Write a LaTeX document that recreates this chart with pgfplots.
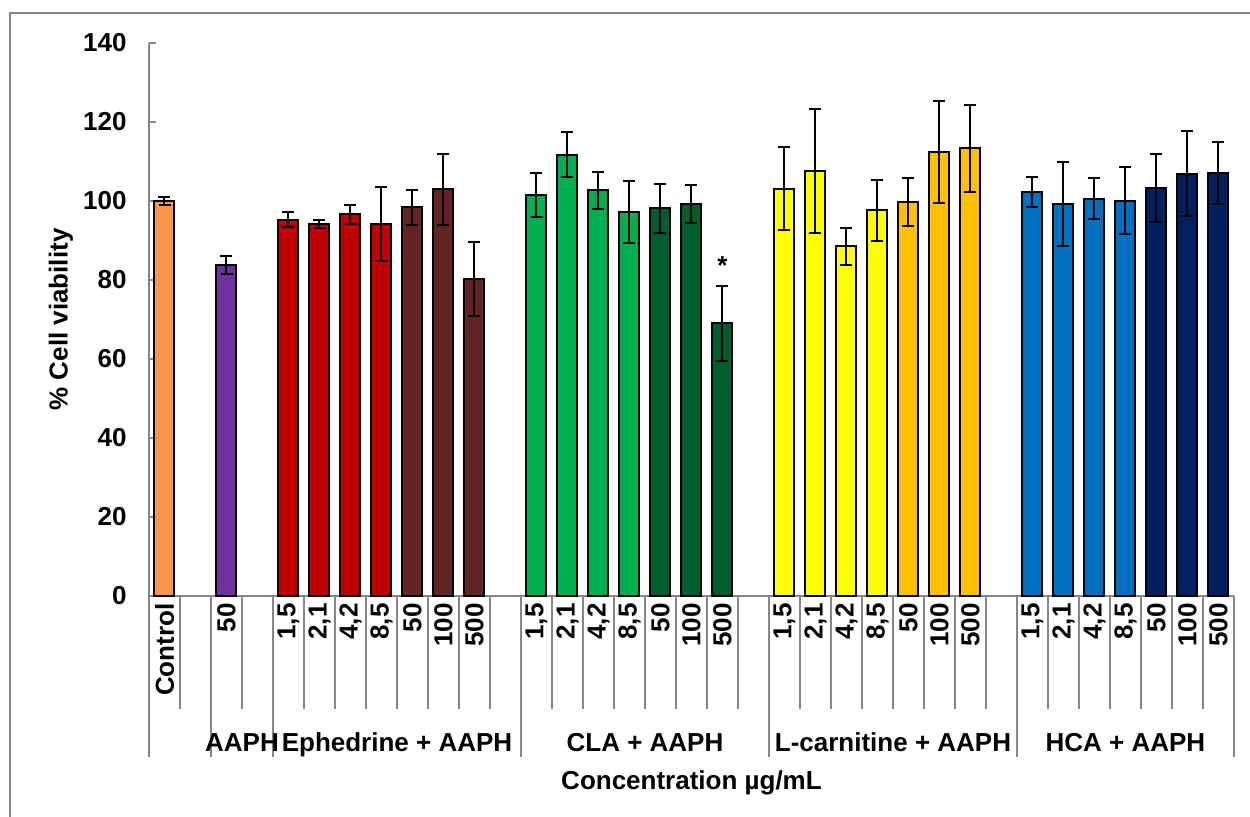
\documentclass[border=0pt]{standalone}
\usepackage{fontspec}
\setmainfont{Liberation Sans}
\usepackage{pgfplots}
\pgfplotsset{compat=1.18}
\definecolor{cCtrl}{HTML}{F79646}
\definecolor{cAAPH}{HTML}{7030A0}
\definecolor{cEphA}{HTML}{C00000}
\definecolor{cEphB}{HTML}{632523}
\definecolor{cCLAA}{HTML}{00B050}
\definecolor{cCLAB}{HTML}{005E2E}
\definecolor{cLcA}{HTML}{FFFF00}
\definecolor{cLcB}{HTML}{FFC000}
\definecolor{cHCAA}{HTML}{0070C0}
\definecolor{cHCAB}{HTML}{002060}
\definecolor{axgray}{RGB}{134,134,134}
\newcommand{\lf}{\fontsize{13}{15}\selectfont\bfseries}
\begin{document}
\begin{tikzpicture}[font=\lf]
\path[use as bounding box] (0,0) rectangle (625pt,408pt);
\draw[axgray, line width=1pt] (5pt,-20pt) -- (5pt,401.5pt) -- (650pt,401.5pt);
\begin{axis}[
  at={(74.5pt,110pt)}, anchor=south west,
  scale only axis, width=542.5pt, height=276.5pt,
  xmin=0, xmax=35, ymin=0, ymax=140,
  axis x line*=bottom, axis y line*=left,
  axis line style={draw=axgray, line width=0.8pt, -},
  ytick={0,20,...,140}, tick align=inside, major tick length=3.5pt,
  ytick style={draw=axgray, line width=0.8pt},
  xtick={0.5,1.5,...,34.5}, xtick style={draw=none},
  xticklabels={Control,{},50,{},{1,5},{2,1},{4,2},{8,5},50,100,500,{},{1,5},{2,1},{4,2},{8,5},50,100,500,{},{1,5},{2,1},{4,2},{8,5},50,100,500,{},{1,5},{2,1},{4,2},{8,5},50,100,500},
  xticklabel style={rotate=90, anchor=east, inner sep=0pt, font=\lf},
  yticklabel style={font=\lf, inner sep=0pt, anchor=east, xshift=-11pt},
  /pgf/number format/assume math mode=true,
  ybar, bar width=10pt, bar shift=0pt,
  clip=false,
  every axis plot/.append style={draw=black, line width=1pt, bar shift=0pt,
    error bars/y dir=both, error bars/y explicit,
    error bars/error bar style={line width=1pt, black},
    error bars/error mark options={rotate=90, mark size=3pt, line width=1pt, black}},
]
\addplot[fill=cCtrl] table[x=x,y=y,y error=e]{
x y e
0.5 100.0 1.0
};
\addplot[fill=cAAPH] table[x=x,y=y,y error=e]{
x y e
2.5 83.7 2.3
};
\addplot[fill=cEphA] table[x=x,y=y,y error=e]{
x y e
4.5 95.3 2.0
5.5 94.2 1.1
6.5 96.6 2.4
7.5 94.2 9.4
};
\addplot[fill=cEphB] table[x=x,y=y,y error=e]{
x y e
8.5 98.4 4.4
9.5 103.0 9.0
10.5 80.3 9.3
};
\addplot[fill=cCLAA] table[x=x,y=y,y error=e]{
x y e
12.5 101.5 5.6
13.5 111.7 5.7
14.5 102.7 4.6
15.5 97.2 7.8
};
\addplot[fill=cCLAB] table[x=x,y=y,y error=e]{
x y e
16.5 98.2 6.2
17.5 99.3 4.8
18.5 69.0 9.5
};
\addplot[fill=cLcA] table[x=x,y=y,y error=e]{
x y e
20.5 103.1 10.5
21.5 107.6 15.6
22.5 88.5 4.6
23.5 97.6 7.8
};
\addplot[fill=cLcB] table[x=x,y=y,y error=e]{
x y e
24.5 99.7 6.0
25.5 112.3 12.9
26.5 113.4 11.0
};
\addplot[fill=cHCAA] table[x=x,y=y,y error=e]{
x y e
28.5 102.3 3.8
29.5 99.3 10.7
30.5 100.6 5.2
31.5 100.1 8.4
};
\addplot[fill=cHCAB] table[x=x,y=y,y error=e]{
x y e
32.5 103.3 8.5
33.5 106.9 10.7
34.5 107.1 7.8
};
\pgfplotsinvokeforeach{1,3,5,6,7,8,9,10,11,13,14,15,16,17,18,19,21,22,23,24,25,26,27,29,30,31,32,33,34}{
  \draw[axgray, line width=0.8pt] (axis cs:#1,0) -- ++(0pt,-56.5pt);
}
\pgfplotsinvokeforeach{0,2,4,12,20,28,35}{
  \draw[axgray, line width=0.8pt] (axis cs:#1,0) -- ++(0pt,-80.5pt);
}
\node[anchor=base] at ([yshift=-77.5pt]axis cs:3,0) {AAPH};
\node[anchor=base] at ([yshift=-77.5pt]axis cs:8,0) {Ephedrine + AAPH};
\node[anchor=base] at ([yshift=-77.5pt]axis cs:16,0) {CLA + AAPH};
\node[anchor=base] at ([yshift=-77.5pt]axis cs:24,0) {L-carnitine + AAPH};
\node[anchor=base] at ([yshift=-77.5pt]axis cs:31.5,0) {HCA + AAPH};
\node[anchor=base] at ([yshift=-96.5pt]axis cs:17.5,0) {Concentration µg/mL};
\node[rotate=90] at ([xshift=-44pt]axis cs:0,70) {\% Cell viability};
\node at (axis cs:18.5,83.6) {*};
\end{axis}
\end{tikzpicture}
\end{document}
